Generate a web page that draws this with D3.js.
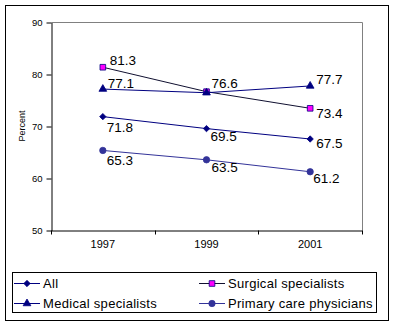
<!DOCTYPE html>
<html>
<head>
<meta charset="utf-8">
<script src="https://cdn.jsdelivr.net/npm/d3@7"></script>
<style>
  body { margin: 0; background: #fff; }
  svg { display: block; font-family: Arial, "Liberation Sans", sans-serif; }
</style>
</head>
<body>
<div id="chart"></div>
<script>
// data
var years = ["1997", "1999", "2001"];
var allValues = [71.8, 69.5, 67.5];
var surgicalValues = [81.3, 76.6, 73.4];
var medicalValues = [77.1, 76.4, 77.7];
var primaryValues = [65.3, 63.5, 61.2];
var yTicks = [50, 60, 70, 80, 90];

// label text per point (null = hidden behind another label in the original)
var allLabels = ["71.8", "69.5", "67.5"];
var surgicalLabels = ["81.3", "76.6", "73.4"];
var medicalLabels = ["77.1", null, "77.7"];
var primaryLabels = ["65.3", "63.5", "61.2"];

// square diamond like excel
var squareDiamond = {
  draw: function(ctx, size) {
    var r = Math.sqrt(size) / 2 * 1.2;
    ctx.moveTo(0, -r); ctx.lineTo(r, 0); ctx.lineTo(0, r); ctx.lineTo(-r, 0); ctx.closePath();
  }
};

var series = [
  { name: "All", values: allValues, labels: allLabels, color: "#000080", fill: "#000080", stroke: "#000080", symbol: squareDiamond, size: 28,
    off: [[4, 15], [4, 12], [6, 9]] },
  { name: "Surgical specialists", values: surgicalValues, labels: surgicalLabels, color: "#101030", fill: "#ff00ff", stroke: "#000080", symbol: d3.symbolSquare, size: 32,
    off: [[7, -2], [5, -4], [6, 10]] },
  { name: "Medical specialists", values: medicalValues, labels: medicalLabels, color: "#000080", fill: "#000080", stroke: "#000080", symbol: d3.symbolTriangle, size: 26,
    off: [[5, -1], [5, -4], [6, -2]] },
  { name: "Primary care physicians", values: primaryValues, labels: primaryLabels, color: "#333399", fill: "#333399", stroke: "#333399", symbol: d3.symbolCircle, size: 32,
    off: [[4, 15], [5, 12], [3, 11]] }
];

var W = 395, H = 326;
var svg = d3.select("#chart").append("svg")
    .attr("width", W)
    .attr("height", H);

// outer frame
svg.append("rect")
    .attr("x", 5.5).attr("y", 5.5)
    .attr("width", 383).attr("height", 315)
    .attr("fill", "none").attr("stroke", "#000");

var plotLeft = 51, plotRight = 362, plotTop = 22, plotBottom = 230;

var x = d3.scaleBand()
    .domain(years)
    .range([plotLeft, plotRight]);

var y = d3.scaleLinear()
    .domain([50, 90])
    .range([plotBottom, plotTop]);

// gray plot border on top and right
svg.append("path")
    .attr("d", "M" + (plotLeft + 0.5) + "," + (plotTop + 0.5) + "H" + (plotRight + 0.5) + "V" + (plotBottom + 0.5))
    .attr("fill", "none").attr("stroke", "#808080");

// y axis
var yAxis = svg.append("g")
    .attr("transform", "translate(" + (plotLeft + 0.5) + ",0.5)")
    .call(d3.axisLeft(y).tickValues(yTicks).tickSize(5).tickSizeOuter(0));
yAxis.select(".domain").attr("stroke", "#000");
yAxis.selectAll("line").attr("stroke", "#000");
yAxis.selectAll("text").attr("font-size", "9.5px").attr("fill", "#000").attr("dx", "-1");

// x axis: labels centered, ticks between categories
var xAxis = svg.append("g")
    .attr("transform", "translate(0," + (plotBottom + 0.5) + ")")
    .call(d3.axisBottom(x).tickSize(0).tickSizeOuter(0));
xAxis.select(".domain").attr("stroke", "#000");
xAxis.selectAll("text").attr("font-size", "11px").attr("fill", "#000").attr("dy", "1.35em");

var edges = years.map(function(d) { return x(d); }).concat([x(years[years.length - 1]) + x.bandwidth()]);
xAxis.selectAll(".edge")
    .data(edges)
    .enter().append("line")
    .attr("x1", function(d) { return Math.round(d) + 0.5; })
    .attr("x2", function(d) { return Math.round(d) + 0.5; })
    .attr("y1", 0).attr("y2", 4)
    .attr("stroke", "#000");

// y title
svg.append("text")
    .attr("transform", "translate(25," + ((plotTop + plotBottom) / 2) + ") rotate(-90)")
    .attr("text-anchor", "middle")
    .attr("font-size", "9px")
    .text("Percent");

var cx = function(i) { return x(years[i]) + x.bandwidth() / 2; };

var line = d3.line()
    .x(function(d, i) { return cx(i); })
    .y(function(d) { return y(d); });

// draw order: surgical under medical
var drawOrder = [0, 1, 3, 2];
drawOrder.forEach(function(k) {
  var s = series[k];
  svg.append("path")
      .datum(s.values)
      .attr("d", line)
      .attr("fill", "none")
      .attr("stroke", s.color)
      .attr("stroke-width", 1);
});
drawOrder.forEach(function(k) {
  var s = series[k];
  svg.selectAll(".m" + k)
      .data(s.values)
      .enter().append("path")
      .attr("transform", function(d, i) { return "translate(" + cx(i) + "," + y(d) + ")"; })
      .attr("d", d3.symbol().type(s.symbol).size(s.size))
      .attr("fill", s.fill)
      .attr("stroke", s.stroke)
      .attr("stroke-width", 0.8);
});
series.forEach(function(s, k) {
  var pts = s.values.map(function(v, i) {
    return { v: v, i: i, label: s.labels[i], off: s.off[i] };
  }).filter(function(p) { return p.label !== null; });
  svg.selectAll(".l" + k)
      .data(pts)
      .enter().append("text")
      .attr("x", function(p) { return cx(p.i) + p.off[0]; })
      .attr("y", function(p) { return y(p.v) + p.off[1]; })
      .attr("font-size", "13.5px")
      .attr("fill", "#000")
      .text(function(p) { return p.label; });
});

// legend
var legend = svg.append("g");
legend.append("rect")
    .attr("x", 12.5).attr("y", 272.5)
    .attr("width", 364).attr("height", 40)
    .attr("fill", "none").attr("stroke", "#000");

var legendPos = [[14, 283], [199, 283], [14, 303], [199, 303]];
series.forEach(function(s, k) {
  var p = legendPos[k];
  legend.append("line")
      .attr("x1", p[0]).attr("x2", p[0] + 26)
      .attr("y1", p[1] + 0.5).attr("y2", p[1] + 0.5)
      .attr("stroke", s.color);
  legend.append("path")
      .attr("transform", "translate(" + (p[0] + 13) + "," + (p[1] + 0.5) + ")")
      .attr("d", d3.symbol().type(s.symbol).size(s.size))
      .attr("fill", s.fill)
      .attr("stroke", s.stroke)
      .attr("stroke-width", 0.8);
  legend.append("text")
      .attr("x", p[0] + 29)
      .attr("y", p[1] + 5)
      .attr("font-size", "13px")
      .attr("letter-spacing", "0.3px")
      .text(s.name);
});
</script>
</body>
</html>
